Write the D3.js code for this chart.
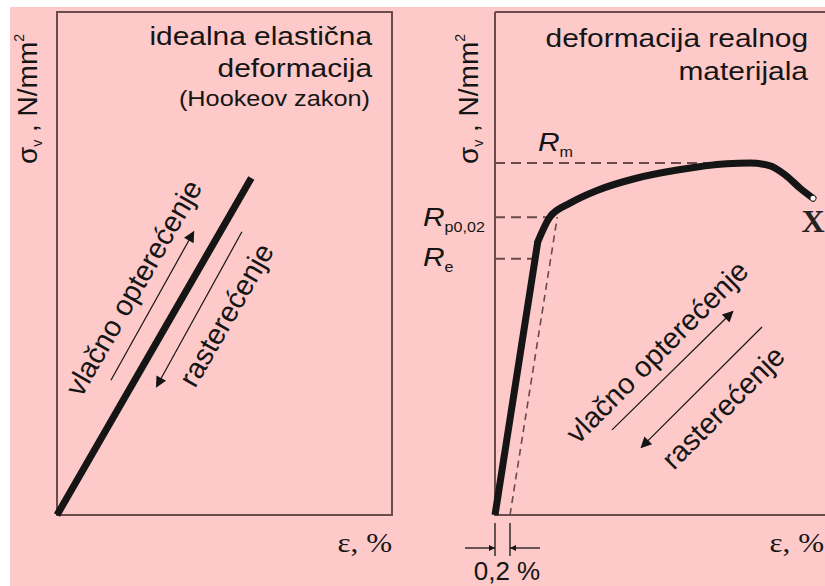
<!DOCTYPE html>
<html>
<head>
<meta charset="utf-8">
<script src="https://cdn.jsdelivr.net/npm/d3@7"></script>
<style>
  body { margin: 0; background: #fff; }
  svg { display: block; }
</style>
</head>
<body>
<script>
var w = 825, h = 586;
var sx = 1.15; // the source picture is a little wider than tall, text is stretched

// left panel: ideal elastic (Hooke) line, relative units
var hookeStrain = [0, 0.58];
var hookeStress = [0, 0.67];

// right panel: real material curve, strain in %, stress in N/mm2
var elasticStrain = [0, 0.57];
var elasticStress = [0, 388];
var plasticStrain = [0.57, 0.73, 1.0, 1.36, 1.87, 2.43, 3.09, 3.4, 3.67, 3.87, 4.07, 4.24];
var plasticStress = [388, 423, 443, 461, 478, 490, 499, 500, 496, 483, 464, 450];
var offsetStrain = [0.2, 0.83];
var offsetStress = [0, 423];

var levelSubs = ["m", "p0,02", "e"];
var levelStress = [500, 423, 364];
var levelStrainEnd = [3.0, 0.8, 0.54];

var bg = "#fdc9c9", axisCol = "#6b4b4b", dashCol = "#6a4a4a", ink = "#151515";
var sans = "Liberation Sans, Arial, sans-serif", serif = "Liberation Serif, Times New Roman, serif";

var svg = d3.select("body").append("svg").attr("width", w).attr("height", h);

svg.append("rect").attr("x", 10).attr("y", 7).attr("width", w - 10).attr("height", h - 7).attr("fill", bg);

var defs = svg.append("defs");
defs.append("marker").attr("id", "head").attr("viewBox", "0 0 10 10")
  .attr("refX", 9).attr("refY", 5).attr("markerWidth", 19).attr("markerHeight", 11)
  .attr("markerUnits", "userSpaceOnUse").attr("orient", "auto")
  .append("path").attr("d", "M0,0 L10,5 L0,10 Z").attr("fill", ink);
defs.append("marker").attr("id", "small").attr("viewBox", "0 0 10 10")
  .attr("refX", 10).attr("refY", 5).attr("markerWidth", 11).attr("markerHeight", 6)
  .attr("markerUnits", "userSpaceOnUse").attr("orient", "auto")
  .append("path").attr("d", "M0,0 L10,5 L0,10 Z").attr("fill", ink);

function hText(x, y, size, anchor, family, stretch) {
  return svg.append("text").attr("transform", "translate(" + x + "," + y + ") scale(" + (stretch || sx) + ",1)")
    .attr("text-anchor", anchor).attr("font-family", family || sans)
    .attr("font-size", size).attr("fill", ink);
}

// ---------- left panel ----------
var xL = d3.scaleLinear().domain([0, 1]).range([57, 392]);
var yL = d3.scaleLinear().domain([0, 1]).range([515, 12]);

svg.append("rect").attr("x", xL(0)).attr("y", yL(1))
  .attr("width", xL(1) - xL(0)).attr("height", yL(0) - yL(1))
  .attr("fill", "none").attr("stroke", axisCol).attr("stroke-width", 2);

var hookeLine = d3.line().x(function(d) { return xL(d[0]); }).y(function(d) { return yL(d[1]); });
svg.append("path").datum(d3.zip(hookeStrain, hookeStress))
  .attr("d", hookeLine).attr("fill", "none").attr("stroke", ink).attr("stroke-width", 7);

var angL = Math.atan2(yL(hookeStress[1]) - yL(0), xL(hookeStrain[1]) - xL(0)) * 180 / Math.PI;

var leftArrows = [[[0.161, 0.268], [0.408, 0.563]], [[0.552, 0.563], [0.297, 0.255]]];
svg.selectAll(".arrL").data(leftArrows).enter().append("path")
  .attr("d", hookeLine).attr("fill", "none").attr("stroke", ink).attr("stroke-width", 1.2)
  .attr("marker-end", "url(#head)");

var leftLabels = [["vlačno opterećenje", 0.228, 0.452], ["rasterećenje", 0.505, 0.398]];
svg.selectAll(".labL").data(leftLabels).enter().append("text")
  .attr("transform", function(d) { return "translate(" + xL(d[1]) + "," + yL(d[2]) + ") rotate(" + angL + ")"; })
  .attr("text-anchor", "middle").attr("dy", "0.35em")
  .attr("font-family", sans).attr("font-size", 29)
  .attr("fill", ink).text(function(d) { return d[0]; });

hText(372, 45, 26, "end").text("idealna elastična");
hText(372, 77, 26, "end").text("deformacija");
hText(370, 106, 22, "end").text("(Hookeov zakon)");

function sigmaLabel(x) {
  var t = svg.append("text").attr("transform", "translate(" + x + ",164) rotate(-90)")
    .attr("font-family", sans).attr("font-size", 28).attr("fill", ink);
  t.append("tspan").text("σ");
  t.append("tspan").attr("font-size", 14).attr("dy", 5).text("v");
  t.append("tspan").attr("dy", -5).text(" , N/mm");
  t.append("tspan").attr("font-size", 14).attr("dy", -13).text("2");
}
sigmaLabel(37);

hText(392, 552, 27, "end", serif).text("ε, %");

// ---------- right panel ----------
var xR = d3.scaleLinear().domain([0, 4.4]).range([495, 825]);
var yR = d3.scaleLinear().domain([0, 500]).range([515, 163]);

svg.append("path").attr("d", "M" + xR(0) + ",12V" + yR(0) + "H825M" + xR(0) + ",12H825")
  .attr("fill", "none").attr("stroke", axisCol).attr("stroke-width", 2);

var lineR = d3.line().x(function(d) { return xR(d[0]); }).y(function(d) { return yR(d[1]); });
var curveR = d3.line().x(function(d) { return xR(d[0]); }).y(function(d) { return yR(d[1]); }).curve(d3.curveMonotoneX);

svg.selectAll(".lev").data(levelStress).enter().append("line")
  .attr("x1", xR(0)).attr("x2", function(d, i) { return xR(levelStrainEnd[i]); })
  .attr("y1", function(d) { return yR(d); }).attr("y2", function(d) { return yR(d); })
  .attr("stroke", dashCol).attr("stroke-width", 2).attr("stroke-dasharray", "10,6");

svg.append("path").datum(d3.zip(offsetStrain, offsetStress)).attr("d", lineR)
  .attr("fill", "none").attr("stroke", dashCol).attr("stroke-width", 1.6).attr("stroke-dasharray", "7,5");

svg.append("path").datum(d3.zip(elasticStrain, elasticStress)).attr("d", lineR)
  .attr("fill", "none").attr("stroke", ink).attr("stroke-width", 7);
svg.append("path").datum(d3.zip(plasticStrain, plasticStress)).attr("d", curveR)
  .attr("fill", "none").attr("stroke", ink).attr("stroke-width", 7).attr("stroke-linecap", "round");

var lastX = xR(plasticStrain[plasticStrain.length - 1]), lastY = yR(plasticStress[plasticStress.length - 1]);
svg.append("circle").attr("cx", lastX).attr("cy", lastY).attr("r", 2.5).attr("fill", "#fff");

hText(lastX, lastY + 34, 32, "middle", serif, 1).attr("font-weight", "bold").attr("fill", "#222").text("X");

var levelPos = [[538, 151], [423, 226], [423, 266]];
levelSubs.forEach(function(s, i) {
  var t = hText(levelPos[i][0], levelPos[i][1], 26, "start");
  t.append("tspan").attr("font-style", "italic").text("R");
  t.append("tspan").attr("font-size", 14).attr("dy", 6).text(s);
});

var rightArrows = [[[1.56, 121], [3.17, 289]], [[3.56, 267], [1.95, 96]]];
svg.selectAll(".arrR").data(rightArrows).enter().append("path")
  .attr("d", lineR).attr("fill", "none").attr("stroke", ink).attr("stroke-width", 1.2)
  .attr("marker-end", "url(#head)");

var rightLabels = [["vlačno opterećenje", 2.16, 232], ["rasterećenje", 3.04, 153]];
svg.selectAll(".labR").data(rightLabels).enter().append("text")
  .attr("transform", function(d) { return "translate(" + xR(d[1]) + "," + yR(d[2]) + ") rotate(-45)"; })
  .attr("text-anchor", "middle").attr("dy", "0.35em")
  .attr("font-family", sans).attr("font-size", 29)
  .attr("fill", ink).text(function(d) { return d[0]; });

hText(808, 47, 26, "end").text("deformacija realnog");
hText(808, 80, 26, "end").text("materijala");

sigmaLabel(478);
hText(824, 552, 27, "end", serif).text("ε, %");

// 0,2 % offset dimension
[0, 0.2].forEach(function(s) {
  svg.append("line").attr("x1", xR(s)).attr("x2", xR(s)).attr("y1", 523).attr("y2", 556)
    .attr("stroke", ink).attr("stroke-width", 1.3);
});
svg.append("line").attr("x1", 465).attr("x2", xR(0)).attr("y1", 548).attr("y2", 548)
  .attr("stroke", ink).attr("stroke-width", 1.3).attr("marker-end", "url(#small)");
svg.append("line").attr("x1", 540).attr("x2", xR(0.2)).attr("y1", 548).attr("y2", 548)
  .attr("stroke", ink).attr("stroke-width", 1.3).attr("marker-end", "url(#small)");
hText(507, 580, 26, "middle", sans, 1).text("0,2 %");
</script>
</body>
</html>
